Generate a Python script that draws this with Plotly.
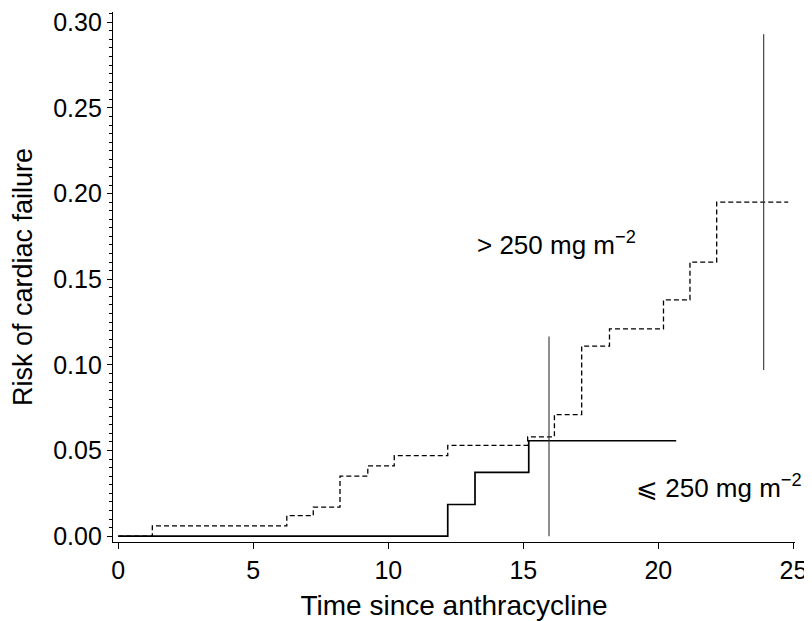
import plotly.graph_objects as go

# >250 mg m^-2 (dashed) step function
high_t = [0, 1.26, 6.24, 7.22, 8.21, 9.24, 10.22, 12.2, 15.16, 16.15, 17.16, 18.19, 20.19, 21.17, 22.16, 24.81]
high_risk = [0, 0.006, 0.012, 0.017, 0.035, 0.041, 0.047, 0.053, 0.058, 0.071, 0.111, 0.121, 0.138, 0.160, 0.195, 0.195]

# <=250 mg m^-2 (solid) step function
low_t = [0, 12.2, 13.21, 15.2, 20.66]
low_risk = [0, 0.0185, 0.0373, 0.0557, 0.0557]

# confidence interval bars
ci_low_t = [15.95, 15.95]
ci_low_risk = [0.0, 0.1165]
ci_high_t = [23.9, 23.9]
ci_high_risk = [0.097, 0.293]

x_ticks = [0, 5, 10, 15, 20, 25]
y_ticks = [0.00, 0.05, 0.10, 0.15, 0.20, 0.25, 0.30]

FONT = "Liberation Sans, Arial, Helvetica, sans-serif"

fig = go.Figure()
fig.add_trace(go.Scatter(x=high_t, y=high_risk, mode="lines", line_shape="hv",
                         line=dict(color="black", width=1.3, dash="5px,3px"), showlegend=False))
fig.add_trace(go.Scatter(x=low_t, y=low_risk, mode="lines", line_shape="hv",
                         line=dict(color="black", width=1.7), showlegend=False))
fig.add_trace(go.Scatter(x=ci_low_t, y=ci_low_risk, mode="lines",
                         line=dict(color="#333333", width=1.1), showlegend=False))
fig.add_trace(go.Scatter(x=ci_high_t, y=ci_high_risk, mode="lines",
                         line=dict(color="#333333", width=1.1), showlegend=False))

fig.add_annotation(x=13.2, y=0.171, xref="x", yref="y", xanchor="left", yanchor="middle",
                   text="> 250 mg m<sup>−2</sup>", showarrow=False,
                   font=dict(family=FONT, size=26, color="black"))
fig.add_annotation(x=19.1, y=0.029, xref="x", yref="y", xanchor="left", yanchor="middle",
                   text="⩽ 250 mg m<sup>−2</sup>", showarrow=False,
                   font=dict(family=FONT, size=26, color="black"))

# the page body adds an 8px offset, so the figure is sized to fit the 812x621 window
fig.update_layout(
    width=804, height=613,
    margin=dict(l=105, r=17, t=4, b=79),
    plot_bgcolor="white", paper_bgcolor="white",
    font=dict(family=FONT, size=25, color="black"),
)
fig.update_xaxes(range=[-0.196, 25.06], tickvals=x_ticks, ticktext=[str(v) for v in x_ticks],
                 automargin=False,
                 showgrid=False, zeroline=False, showline=True, linecolor="black", linewidth=1.2,
                 ticks="outside", ticklen=6, tickcolor="black", tickfont=dict(size=25),
                 title=dict(text="Time since anthracycline", font=dict(size=28), standoff=18))
fig.update_yaxes(range=[-0.0034, 0.306], tickvals=y_ticks, ticktext=[f"{v:.2f}" for v in y_ticks],
                 automargin=False,
                 showgrid=False, zeroline=False, showline=True, linecolor="black", linewidth=1.2,
                 ticks="outside", ticklen=5, tickcolor="black", tickfont=dict(size=25),
                 minor=dict(dtick=0.005, ticks="outside", ticklen=3, tickcolor="black", showgrid=False),
                 title=dict(text="Risk of cardiac failure", font=dict(size=27), standoff=13))

fig.write_html("out.html")
